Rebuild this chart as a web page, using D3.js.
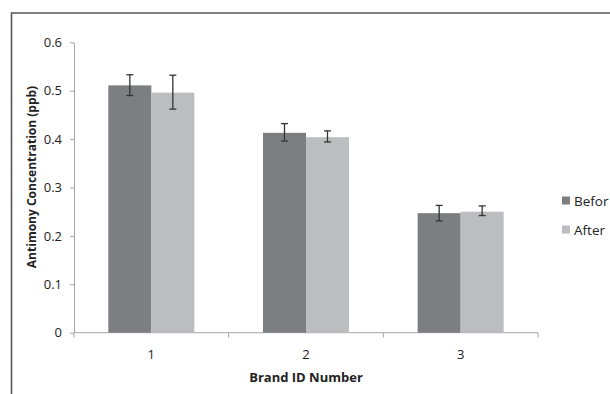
<!DOCTYPE html>
<html><head><meta charset="utf-8">
<script src="https://cdn.jsdelivr.net/npm/d3@7"></script>
<style>body{margin:0;background:#fff}svg{display:block}text{font-family:"Open Sans","Liberation Sans",sans-serif}</style>
</head><body>
<svg id="c" width="610" height="394"></svg>
<script>
const categories = ["1","2","3"];
const seriesNames = ["Befor","After"];
const beforeValues = [0.511, 0.413, 0.247];
const afterValues  = [0.496, 0.404, 0.250];
const beforeErrLow = [0.490, 0.396, 0.231];
const beforeErrHigh= [0.533, 0.432, 0.263];
const afterErrLow  = [0.462, 0.394, 0.242];
const afterErrHigh = [0.532, 0.417, 0.262];
const yTicks = [0,0.1,0.2,0.3,0.4,0.5,0.6];
const colors = ["#7d7e82","#bcbdc1"];

const svg = d3.select("#c");
// frame
svg.append("path").attr("d","M11.5,394 L11.5,13 L610,13").attr("fill","none").attr("stroke","#555").attr("stroke-width",1.6);

const x0 = 74, x1 = 538, yTop = 42.3, yBot = 332.7;
const x = d3.scaleBand().domain(categories).range([x0,x1]).padding(0);
const inset = x.bandwidth()*0.222;
const xs = d3.scaleBand().domain(seriesNames).range([inset, x.bandwidth()-inset]);
const y = d3.scaleLinear().domain([0,0.6]).range([yBot,yTop]);

const yAxis = svg.append("g").attr("transform",`translate(${x0},0)`)
  .call(d3.axisLeft(y).tickValues(yTicks).tickSize(4).tickSizeOuter(0).tickFormat(d=>d===0?"0":d3.format(".1f")(d)));
yAxis.select(".domain").attr("stroke","#a6a6a6");
yAxis.selectAll(".tick line").attr("stroke","#a6a6a6");
yAxis.selectAll(".tick text").attr("font-size",13).attr("fill","#222").attr("x",-12);

// x axis with boundary ticks
const xAxisG = svg.append("g").attr("transform",`translate(0,${yBot})`);
xAxisG.append("line").attr("x1",x0).attr("x2",x1).attr("stroke","#a6a6a6");
categories.forEach(c=>{
  xAxisG.append("line").attr("x1",x(c)).attr("x2",x(c)).attr("y1",0).attr("y2",5).attr("stroke","#a6a6a6");
});
xAxisG.append("line").attr("x1",x1).attr("x2",x1).attr("y1",0).attr("y2",5).attr("stroke","#a6a6a6");
categories.forEach(c=>{
  xAxisG.append("text").attr("x",x(c)+x.bandwidth()/2).attr("y",26).attr("text-anchor","middle")
    .attr("font-size",13).attr("fill","#222").text(c);
});

const data = categories.map((c,i)=>({c, vals:[
  {s:seriesNames[0],v:beforeValues[i],lo:beforeErrLow[i],hi:beforeErrHigh[i],col:colors[0]},
  {s:seriesNames[1],v:afterValues[i],lo:afterErrLow[i],hi:afterErrHigh[i],col:colors[1]}]}));

const g = svg.selectAll("g.grp").data(data).enter().append("g").attr("class","grp")
  .attr("transform",d=>`translate(${x(d.c)},0)`);
g.selectAll("rect").data(d=>d.vals).enter().append("rect")
  .attr("x",d=>xs(d.s)).attr("width",xs.bandwidth()).attr("y",d=>y(d.v)).attr("height",d=>yBot-y(d.v)).attr("fill",d=>d.col);
const eb = g.selectAll("g.eb").data(d=>d.vals).enter().append("g").attr("class","eb")
  .attr("transform",d=>`translate(${xs(d.s)+xs.bandwidth()/2},0)`);
eb.append("line").attr("y1",d=>y(d.lo)).attr("y2",d=>y(d.hi)).attr("stroke","#333").attr("stroke-width",1.3);
eb.append("line").attr("x1",-3.5).attr("x2",3.5).attr("y1",d=>y(d.lo)).attr("y2",d=>y(d.lo)).attr("stroke","#333").attr("stroke-width",1.3);
eb.append("line").attr("x1",-3.5).attr("x2",3.5).attr("y1",d=>y(d.hi)).attr("y2",d=>y(d.hi)).attr("stroke","#333").attr("stroke-width",1.3);

// axis titles
svg.append("text").attr("transform",`translate(33,177) rotate(-90)`).attr("text-anchor","middle").attr("dominant-baseline","middle")
  .attr("font-size",12).attr("font-weight","bold").attr("fill","#222").text("Antimony Concentration (ppb)");
svg.append("text").attr("x",306).attr("y",382).attr("text-anchor","middle")
  .attr("font-size",13).attr("font-weight","bold").attr("fill","#222").text("Brand ID Number");

// legend
const leg = svg.selectAll("g.leg").data(seriesNames).enter().append("g").attr("class","leg")
  .attr("transform",(d,i)=>`translate(562,${200.5+i*29})`);
leg.append("rect").attr("x",0).attr("y",-4).attr("width",8).attr("height",8).attr("fill",(d,i)=>colors[i]);
leg.append("text").attr("x",12).attr("y",5).attr("font-size",13.5).attr("fill","#222").text(d=>d);
</script>
</body></html>
